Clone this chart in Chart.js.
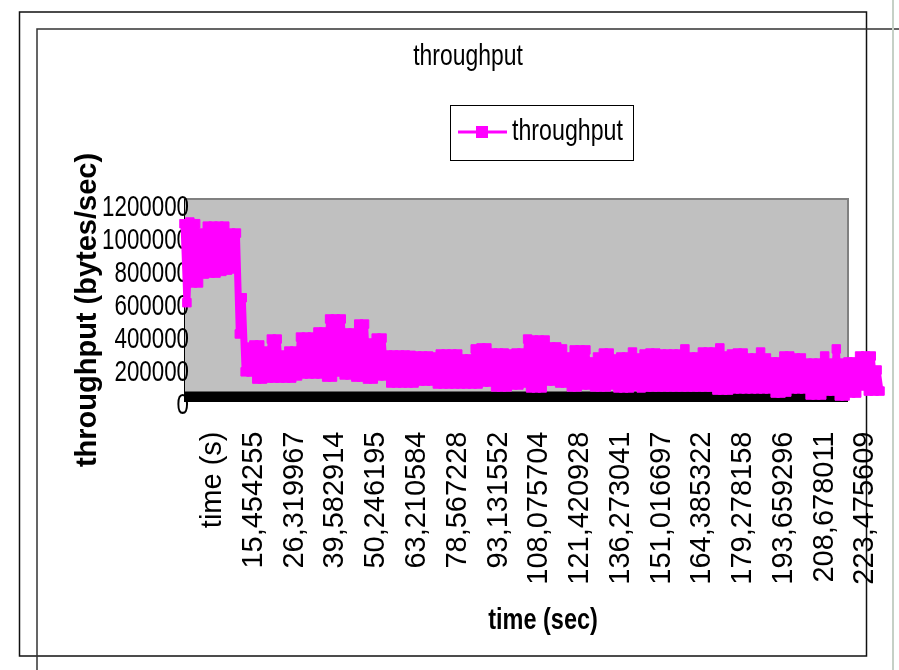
<!DOCTYPE html>
<html>
<head>
<meta charset="utf-8">
<title>throughput</title>
<script src="https://cdn.jsdelivr.net/npm/chart.js@4.4.1/dist/chart.umd.min.js"></script>
<style>
  html, body { margin: 0; padding: 0; background: #fff; }
  #chart { display: block; }
</style>
</head>
<body>
<canvas id="chart" width="899" height="670"></canvas>
<script>
var throughputHigh = [
    1050000, 1060000, 1050000, 993000, 1035000, 1035000, 1035000, 1035000, 993000, 993000,
    600000, 300000, 313000, 313000, 276000, 349000, 349000, 252000, 276000, 276000,
    361000, 361000, 361000, 392000, 392000, 471000, 471000, 471000, 386000, 386000,
    440000, 440000, 325000, 355000, 355000, 252000, 252000, 252000, 252000, 250000,
    246000, 246000, 246000, 240000, 258000, 258000, 258000, 258000, 228000, 228000,
    289000, 295000, 295000, 264000, 264000, 264000, 258000, 264000, 264000, 349000,
    343000, 343000, 343000, 301000, 301000, 289000, 240000, 283000, 283000, 283000,
    210000, 240000, 264000, 264000, 228000, 240000, 240000, 270000, 234000, 258000,
    264000, 264000, 258000, 258000, 258000, 258000, 289000, 240000, 240000, 270000,
    270000, 270000, 295000, 246000, 258000, 264000, 264000, 234000, 234000, 270000,
    234000, 210000, 210000, 246000, 246000, 234000, 234000, 203000, 203000, 203000,
    246000, 203000, 289000, 203000, 210000, 210000, 246000, 246000, 246000, 161000
];
var throughputLow = [
    570000, 690000, 690000, 744000, 750000, 750000, 760000, 768000, 775000, 380000,
    150000, 149000, 106000, 106000, 112000, 112000, 112000, 112000, 112000, 125000,
    137000, 137000, 137000, 137000, 118000, 118000, 149000, 131000, 131000, 118000,
    118000, 106000, 106000, 125000, 125000, 82000, 82000, 82000, 82000, 82000,
    94000, 94000, 94000, 76000, 76000, 76000, 76000, 76000, 76000, 76000,
    76000, 88000, 88000, 58000, 58000, 58000, 70000, 70000, 82000, 52000,
    52000, 52000, 94000, 94000, 82000, 82000, 58000, 58000, 70000, 70000,
    58000, 58000, 58000, 70000, 52000, 52000, 52000, 64000, 52000, 58000,
    58000, 58000, 58000, 58000, 58000, 58000, 58000, 58000, 58000, 58000,
    58000, 39000, 39000, 39000, 46000, 46000, 46000, 46000, 46000, 46000,
    46000, 21000, 21000, 27000, 46000, 46000, 46000, 9000, 9000, 9000,
    33000, 33000, 3000, 3000, 21000, 21000, 64000, 33000, 33000, 33000
];

// time labels shown under the axis (every 14th sample)
var timeLabels = [
    "time (s)", "15,454255", "26,319967", "39,582914", "50,246195", "63,210584",
    "78,567228", "93,131552", "108,075704", "121,420928", "136,273041", "151,016697",
    "164,385322", "179,278158", "193,659296", "208,678011", "223,475609"
];
var firstLabelAt = 10;
var labelEvery = 14;

var yTicks = { min: 0, max: 1200000, step: 200000 };

var values = [];
throughputHigh.forEach(function(h, i) {
    values.push(h, throughputLow[i]);
});
var categories = values.map(function(v, i) {
    var k = i - firstLabelAt;
    if (k >= 0 && k % labelEvery === 0 && k / labelEvery < timeLabels.length) {
        return timeLabels[k / labelEvery];
    }
    return "";
});

var SANS = "'Liberation Sans', Arial, sans-serif";
var MAGENTA = "#ff00ff";

// the old chart uses a squeezed Arial; no narrow font here, so squeeze by hand
function squeezedText(ctx, text, x, y, font, sx, align, rot) {
    ctx.save();
    ctx.translate(x, y);
    if (rot) ctx.rotate(rot);
    ctx.scale(sx, 1);
    ctx.font = font;
    ctx.fillStyle = "#000";
    ctx.textAlign = align;
    ctx.textBaseline = "middle";
    ctx.fillText(text, 0, 0);
    ctx.restore();
}

// grey plot box, black axis band, frame lines, titles and legend
var excelLook = {
    id: "excelLook",
    beforeDraw: function(chart) {
        var ctx = chart.ctx, a = chart.chartArea;
        var boxRight = 848;
        ctx.save();
        ctx.fillStyle = "#fff";
        ctx.fillRect(0, 0, chart.width, chart.height);
        ctx.fillStyle = "#c0c0c0";
        ctx.fillRect(a.left, a.top, boxRight - a.left, a.bottom - a.top);
        ctx.strokeStyle = "#808080";
        ctx.lineWidth = 2;
        ctx.beginPath();
        ctx.moveTo(a.left, a.top);
        ctx.lineTo(boxRight, a.top);
        ctx.lineTo(boxRight, a.bottom);
        ctx.stroke();

        ctx.strokeStyle = "#111";
        ctx.lineWidth = 1.5;
        ctx.strokeRect(19.5, 12, 847, 644);
        ctx.strokeStyle = "#333";
        ctx.beginPath();
        ctx.moveTo(37, 670);
        ctx.lineTo(37, 29);
        ctx.lineTo(899, 29);
        ctx.stroke();
        ctx.strokeStyle = "#c6d0c6";
        ctx.lineWidth = 2;
        ctx.beginPath();
        ctx.moveTo(893, 0);
        ctx.lineTo(893, 670);
        ctx.stroke();
        ctx.restore();
    },
    beforeDatasetsDraw: function(chart) {
        var ctx = chart.ctx, a = chart.chartArea;
        var y = chart.scales.y;
        var y0 = y.getPixelForValue(0);
        ctx.save();
        ctx.fillStyle = "#000";
        ctx.fillRect(a.left, y0 - 5, 848 - a.left, 10.5);
        // y tick labels
        y.ticks.forEach(function(t) {
            squeezedText(ctx, String(t.value), 189, y.getPixelForValue(t.value) + 9,
                "29px " + SANS, 0.77, "right");
        });
        ctx.restore();
    },
    afterDraw: function(chart) {
        var ctx = chart.ctx;
        var ds = chart.data.datasets[0];
        squeezedText(ctx, "throughput", 468, 57, "29px " + SANS, 0.79, "center");
        squeezedText(ctx, "time (sec)", 543, 621, "bold 29px " + SANS, 0.81, "center");
        squeezedText(ctx, "throughput (bytes/sec)", 88, 310, "bold 29px " + SANS, 1, "center", -Math.PI / 2);

        ctx.save();
        ctx.strokeStyle = "#000";
        ctx.lineWidth = 1;
        ctx.strokeRect(450.5, 105.5, 183, 55);
        ctx.strokeStyle = ds.borderColor;
        ctx.lineWidth = 3;
        ctx.beginPath();
        ctx.moveTo(458, 132);
        ctx.lineTo(507, 132);
        ctx.stroke();
        ctx.fillStyle = ds.pointBackgroundColor;
        ctx.fillRect(476, 126, 12, 12);
        ctx.restore();
        squeezedText(ctx, ds.label, 512, 132, "29px " + SANS, 0.8, "left");
    }
};

var ctx = document.getElementById("chart").getContext("2d");
var chart = new Chart(ctx, {
    type: "line",
    data: {
        labels: categories,
        datasets: [{
            label: "throughput",
            data: values,
            borderColor: MAGENTA,
            backgroundColor: MAGENTA,
            borderWidth: 7,
            borderJoinStyle: "bevel",
            pointStyle: "rect",
            pointRadius: 6,
            pointBorderWidth: 1,
            pointBackgroundColor: MAGENTA,
            pointBorderColor: MAGENTA,
            tension: 0,
            clip: false
        }]
    },
    options: {
        responsive: false,
        animation: false,
        events: [],
        layout: { padding: { left: 56, right: 19, top: 199, bottom: 20 } },
        plugins: {
            legend: { display: false },
            tooltip: { enabled: false },
            title: { display: false }
        },
        scales: {
            x: {
                type: "category",
                offset: false,
                grid: { display: false, drawTicks: false },
                border: { display: false },
                ticks: {
                    autoSkip: false,
                    minRotation: 90,
                    maxRotation: 90,
                    padding: 35,
                    color: "#000",
                    font: { family: SANS, size: 29 }
                },
                afterFit: function(s) {
                    s.height = 253.5;
                    s.paddingLeft = 0;
                    s.paddingRight = 0;
                }
            },
            y: {
                min: yTicks.min,
                max: yTicks.max,
                grid: { display: false, drawTicks: false },
                border: { display: true, color: "#000", width: 1 },
                ticks: {
                    display: false,
                    autoSkip: false,
                    stepSize: yTicks.step
                },
                afterFit: function(s) {
                    s.width = 128;
                    s.paddingTop = 0;
                    s.paddingBottom = 0;
                }
            }
        }
    },
    plugins: [excelLook]
});
</script>
</body>
</html>
